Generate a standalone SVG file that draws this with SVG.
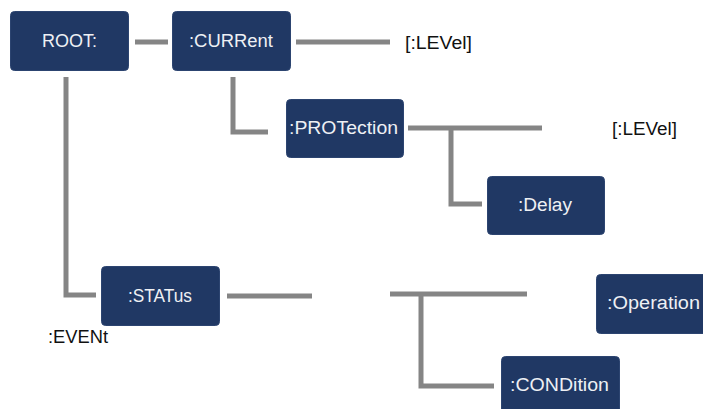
<svg xmlns="http://www.w3.org/2000/svg" width="703" height="409" viewBox="0 0 703 409">
<style>
.box{fill:#203864;stroke:#2c4470;stroke-width:1}
.lbl{font-family:"Liberation Sans",Arial,sans-serif;font-size:18px;fill:#eef0f4}
.txt{font-family:"Liberation Sans",Arial,sans-serif;font-size:18px;fill:#111}
.ln{fill:none;stroke:#858585;stroke-width:5;stroke-linejoin:miter;stroke-linecap:butt}
</style>
<rect width="703" height="409" fill="#fff"/>
<g id="connectors">
<path class="ln" d="M135 42H168"/>
<path class="ln" d="M296 42H390"/>
<path class="ln" d="M66 77V295H96"/>
<path class="ln" d="M233 77V132H268"/>
<path class="ln" d="M408 128H542"/>
<path class="ln" d="M451 128V204H482"/>
<path class="ln" d="M227 296H312"/>
<path class="ln" d="M390 294H527"/>
<path class="ln" d="M421 294V386H494"/>
</g>
<g id="root"><rect class="box" x="10.5" y="11.5" width="118" height="59" rx="4"/><text class="lbl" x="42" y="47" textLength="55" lengthAdjust="spacingAndGlyphs">ROOT:</text></g>
<g id="current"><rect class="box" x="172.5" y="11.5" width="118" height="59" rx="4"/><text class="lbl" x="189" y="47" textLength="84" lengthAdjust="spacingAndGlyphs">:CURRent</text></g>
<g id="level1"><text class="txt" x="405" y="49" textLength="67" lengthAdjust="spacingAndGlyphs">[:LEVel]</text></g>
<g id="protection"><rect class="box" x="286.5" y="99.5" width="117" height="58" rx="4"/><text class="lbl" x="289" y="134" textLength="109" lengthAdjust="spacingAndGlyphs">:PROTection</text></g>
<g id="level2"><text class="txt" x="612" y="135" textLength="65" lengthAdjust="spacingAndGlyphs">[:LEVel]</text></g>
<g id="delay"><rect class="box" x="487.5" y="176.5" width="117" height="58" rx="4"/><text class="lbl" x="518" y="211" textLength="54" lengthAdjust="spacingAndGlyphs">:Delay</text></g>
<g id="status"><rect class="box" x="101.5" y="266.5" width="118" height="59" rx="4"/><text class="lbl" x="128" y="302" textLength="64" lengthAdjust="spacingAndGlyphs">:STATus</text></g>
<g id="event"><text class="txt" x="48" y="343" textLength="60" lengthAdjust="spacingAndGlyphs">:EVENt</text></g>
<g id="operation"><rect class="box" x="596.5" y="274.5" width="130" height="59" rx="4"/><text class="lbl" x="607" y="309" textLength="93" lengthAdjust="spacingAndGlyphs">:Operation</text></g>
<g id="condition"><rect class="box" x="501.5" y="356.5" width="118" height="70" rx="4"/><text class="lbl" x="510" y="391" textLength="99" lengthAdjust="spacingAndGlyphs">:CONDition</text></g>
</svg>
